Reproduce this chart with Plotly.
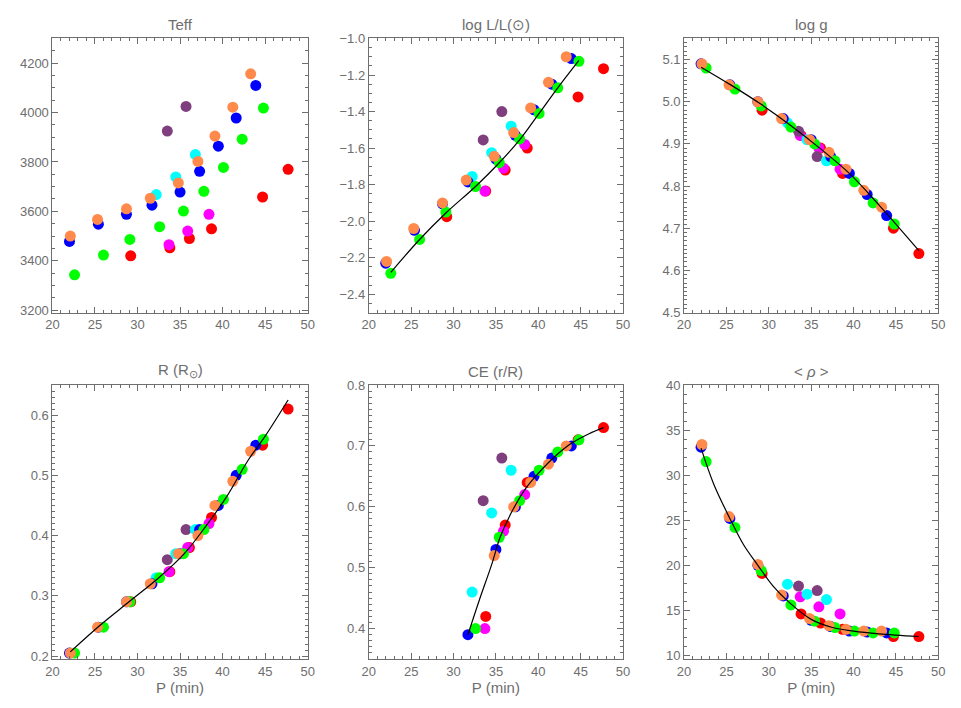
import plotly.graph_objects as go

# pulsation period (min) of each model sequence
p_blue = [22.0, 25.4, 28.7, 31.7, 35.0, 37.3, 39.5, 41.6, 43.9]
p_orange = [22.1, 25.3, 28.7, 31.5, 34.8, 37.1, 39.1, 41.2, 43.3]
p_green = [22.6, 26.0, 29.1, 32.6, 35.4, 37.8, 40.1, 42.3, 44.8]
p_cyan = [32.2, 34.5, 36.8]
p_purple = [33.5, 35.7]
p_magenta = [33.7, 35.9, 38.4]
p_red = [29.2, 33.8, 36.1, 38.7, 44.7, 47.7]

teff = {
    'blue': [3478, 3548, 3588, 3625, 3678, 3762, 3864, 3978, 4110],
    'orange': [3500, 3567, 3610, 3653, 3715, 3802, 3905, 4022, 4157],
    'green': [3343, 3423, 3486, 3538, 3601, 3681, 3778, 3892, 4018],
    'cyan': [3668, 3739, 3830],
    'purple': [3925, 4025],
    'magenta': [3465, 3520, 3588],
    'red': [3420, 3452, 3490, 3529, 3658, 3770],
}
log_l = {
    'blue': [-2.23, -2.05, -1.905, -1.785, -1.66, -1.53, -1.39, -1.25, -1.11],
    'orange': [-2.22, -2.04, -1.90, -1.775, -1.645, -1.515, -1.38, -1.24, -1.10],
    'green': [-2.285, -2.10, -1.95, -1.81, -1.68, -1.55, -1.41, -1.27, -1.125],
    'cyan': [-1.755, -1.625, -1.48],
    'purple': [-1.555, -1.40],
    'magenta': [-1.835, -1.71, -1.58],
    'red': [-1.975, -1.835, -1.72, -1.60, -1.32, -1.165],
}
log_g = {
    'blue': [5.09, 5.04, 5.00, 4.96, 4.91, 4.87, 4.83, 4.78, 4.73],
    'orange': [5.09, 5.04, 5.00, 4.96, 4.91, 4.88, 4.84, 4.79, 4.75],
    'green': [5.08, 5.03, 4.99, 4.94, 4.90, 4.86, 4.81, 4.76, 4.71],
    'cyan': [4.95, 4.91, 4.86],
    'purple': [4.93, 4.87],
    'magenta': [4.92, 4.89, 4.84],
    'red': [4.98, 4.92, 4.89, 4.83, 4.70, 4.64],
}
radius = {
    'blue': [0.205, 0.248, 0.29, 0.32, 0.37, 0.41, 0.45, 0.50, 0.55],
    'orange': [0.205, 0.248, 0.29, 0.32, 0.37, 0.40, 0.45, 0.49, 0.54],
    'green': [0.205, 0.248, 0.29, 0.33, 0.37, 0.41, 0.46, 0.51, 0.56],
    'cyan': [0.33, 0.37, 0.41],
    'purple': [0.36, 0.41],
    'magenta': [0.34, 0.38, 0.42],
    'red': [0.29, 0.34, 0.38, 0.43, 0.55, 0.61],
}
# convective envelope base, no envelope for the shortest periods
ce = {
    'blue': [None, None, None, 0.39, 0.53, 0.60, 0.65, 0.68, 0.70],
    'orange': [None, None, None, None, 0.52, 0.60, 0.64, 0.67, 0.70],
    'green': [None, None, None, 0.40, 0.55, 0.61, 0.66, 0.69, 0.71],
    'cyan': [0.46, 0.59, 0.66],
    'purple': [0.61, 0.68],
    'magenta': [0.40, 0.56, 0.62],
    'red': [None, 0.42, 0.57, 0.64, 0.71, 0.73],
}
rho = {
    'blue': [33.1, 25.2, 20.0, 16.6, 13.9, 13.2, 12.7, 12.6, 12.5],
    'orange': [33.4, 25.4, 20.1, 16.7, 14.1, 13.3, 12.9, 12.7, 12.7],
    'green': [31.5, 24.2, 19.4, 15.6, 13.8, 13.1, 12.7, 12.5, 12.5],
    'cyan': [17.9, 16.8, 16.2],
    'purple': [17.7, 17.2],
    'magenta': [16.5, 15.4, 14.6],
    'red': [19.1, 14.6, 13.6, 12.9, 12.1, 12.1],
}

# fitted relations (black curves)
fit_logl_p = [22.6, 26.0, 29.1, 32.6, 35.4, 37.8, 40.1, 42.3, 44.8]
fit_logl = [-2.28, -2.10, -1.955, -1.81, -1.68, -1.555, -1.41, -1.27, -1.12]
fit_logg_p = [22.0, 25.5, 29.0, 32.5, 36.0, 39.5, 43.0, 47.7]
fit_logg = [5.082, 5.04, 4.995, 4.945, 4.89, 4.83, 4.755, 4.647]
fit_r_p = [22.1, 25.5, 29.0, 32.5, 35.5, 38.0, 40.5, 43.0, 45.0, 47.7]
fit_r = [0.207, 0.25, 0.29, 0.33, 0.37, 0.415, 0.465, 0.525, 0.565, 0.625]
fit_ce_p = [31.7, 33.0, 34.5, 35.5, 37.0, 38.5, 40.0, 42.0, 44.0, 46.0, 47.7]
fit_ce = [0.39, 0.445, 0.505, 0.55, 0.595, 0.63, 0.655, 0.683, 0.705, 0.72, 0.73]
fit_rho_p = [22.0, 23.5, 25.4, 27.0, 28.7, 30.5, 32.5, 35.0, 37.5, 40.0, 43.0, 47.7]
fit_rho = [33.0, 29.0, 25.2, 22.3, 20.0, 17.7, 15.8, 14.0, 13.1, 12.7, 12.4, 12.1]

periods = {'red': p_red, 'magenta': p_magenta, 'purple': p_purple, 'cyan': p_cyan,
           'blue': p_blue, 'green': p_green, 'orange': p_orange}
colors = {'red': '#ff0000', 'magenta': '#ff00ff', 'purple': '#7f3f7f', 'cyan': '#00ffff',
          'blue': '#0000ff', 'green': '#00ff00', 'orange': '#ff8a4c'}

GREY = '#6e6e6e'
FONT = 'Liberation Sans, Arial, sans-serif'

# (title, values, fit x, fit y, y range, y dtick, y minor dtick, tick format)
panels = [
    ('Teff', teff, None, None, [3190, 4300], 200, 50, 'd'),
    ('log L/L(\u2299)', log_l, fit_logl_p, fit_logl, [-2.5, -1.0], 0.2, 0.05, '.1f'),
    ('log g', log_g, fit_logg_p, fit_logg, [4.5, 5.15], 0.1, 0.01, '.1f'),
    ('R (R<sub>\u2299</sub>)', radius, fit_r_p, fit_r, [0.195, 0.65], 0.1, 0.01, '.1f'),
    ('CE (r/R)', ce, fit_ce_p, fit_ce, [0.35, 0.8], 0.1, 0.01, '.1f'),
    ('&lt; <i>\u03c1</i> &gt;', rho, fit_rho_p, fit_rho, [9.6, 40], 5, 1, 'd'),
]

col_dom = [[38 / 961, 297 / 961], [359 / 961, 617 / 961], [679 / 961, 937 / 961]]
row_dom = [[1 - 304 / 708, 1 - 24 / 708], [1 - 658 / 708, 1 - 378 / 708]]

fig = go.Figure()
layout = {}
annotations = []
for i, (title, vals, fx, fy, yrange, ydt, ymin, fmt) in enumerate(panels):
    row, col = divmod(i, 3)
    n = '' if i == 0 else str(i + 1)
    xa, ya = 'x' + n, 'y' + n
    for name in periods:
        fig.add_trace(go.Scatter(
            x=periods[name], y=vals[name], mode='markers',
            marker=dict(color=colors[name], size=11, line=dict(width=0)),
            xaxis=xa, yaxis=ya, showlegend=False, hoverinfo='x+y'
        ))
    if fx is not None:
        fig.add_trace(go.Scatter(
            x=fx, y=fy, mode='lines', line=dict(color='black', width=1.2, shape='spline'),
            xaxis=xa, yaxis=ya, showlegend=False
        ))
    common = dict(
        showline=True, linecolor=GREY, linewidth=1, mirror='ticks',
        ticks='inside', ticklen=6, tickcolor=GREY, tickwidth=1,
        showgrid=False, zeroline=False,
        tickfont=dict(family=FONT, size=13, color=GREY),
    )
    xaxis = dict(
        common, domain=col_dom[col], anchor=ya, range=[20, 50], dtick=5, tick0=20,
        minor=dict(dtick=1, ticks='inside', ticklen=3, tickcolor=GREY, showgrid=False),
    )
    if row == 1:
        xaxis['title'] = dict(text='P (min)', font=dict(family=FONT, size=15, color=GREY),
                              standoff=2)
    layout['xaxis' + n] = xaxis
    layout['yaxis' + n] = dict(
        common, domain=row_dom[row], anchor=xa, range=yrange, dtick=ydt,
        tick0=0, tickformat=fmt,
        minor=dict(dtick=ymin, ticks='inside', ticklen=3, tickcolor=GREY, showgrid=False),
    )
    annotations.append(dict(
        text=title, x=sum(col_dom[col]) / 2, y=row_dom[row][1], xref='paper', yref='paper',
        xanchor='center', yanchor='bottom', yshift=3, showarrow=False,
        font=dict(family=FONT, size=15, color=GREY)
    ))

fig.update_layout(
    **layout,
    annotations=annotations,
    width=961, height=708,
    margin=dict(l=0, r=0, t=0, b=0),
    paper_bgcolor='white', plot_bgcolor='white',
)

fig.write_html("out.html")
